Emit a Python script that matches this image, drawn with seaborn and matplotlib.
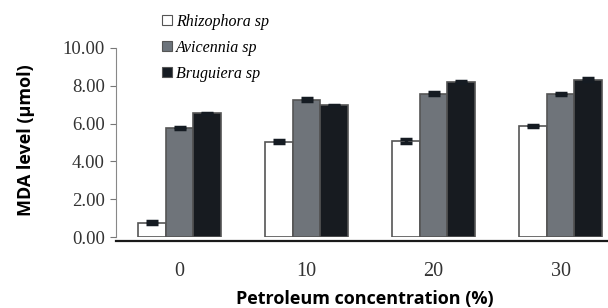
import matplotlib.pyplot as plt
import pandas as pd
import seaborn as sns
from matplotlib.patches import Patch

# data
concentration = ["0", "10", "20", "30"]
species = ["Rhizophora sp", "Avicennia sp", "Bruguiera sp"]
rhizophora = [0.75, 5.03, 5.08, 5.88]
avicennia = [5.77, 7.27, 7.58, 7.58]
bruguiera = [6.55, 6.98, 8.22, 8.33]
err_rhizophora = [0.08, 0.08, 0.08, 0.07]
err_avicennia = [0.06, 0.08, 0.08, 0.06]
err_bruguiera = [0.03, 0.03, 0.06, 0.08]

colors = ["#ffffff", "#6d747c", "#151b22"]

df = pd.DataFrame({
    "conc": concentration * 3,
    "species": [s for s in species for _ in concentration],
    "mda": rhizophora + avicennia + bruguiera,
    "err": err_rhizophora + err_avicennia + err_bruguiera,
})

fig = plt.figure(figsize=(6.08, 3.08), dpi=100)
ax = fig.add_axes([116 / 608, 71 / 308, 508 / 608, 189 / 308])

sns.barplot(data=df, x="conc", y="mda", hue="species", order=concentration,
            hue_order=species, palette=colors, width=0.66, gap=0,
            errorbar=None, edgecolor="#555555", linewidth=1.2,
            legend=False, ax=ax)

# error bars on top of each bar (patches come out hue by hue)
for patch, (_, row) in zip(ax.patches, df.iterrows()):
    xc = patch.get_x() + patch.get_width() / 2
    ax.errorbar(xc, row["mda"], yerr=row["err"], fmt="none",
                ecolor="#151b22", elinewidth=2.5, capsize=4, capthick=2.5)

ax.set_xlim(-0.5, 3.5)
ax.set_ylim(0, 10)
ax.set_yticks([0, 2, 4, 6, 8, 10])
ax.set_yticklabels(["0.00", "2.00", "4.00", "6.00", "8.00", "10.00"])

ax.tick_params(axis="y", labelsize=13.5, length=4, color="#777777", pad=4,
               labelfontfamily="Liberation Serif", labelcolor="#333333")
ax.tick_params(axis="x", labelsize=14.5, length=0, pad=15,
               labelfontfamily="Liberation Serif", labelcolor="#333333")

ax.spines["top"].set_visible(False)
ax.spines["right"].set_visible(False)
ax.spines["left"].set_color("#888888")
ax.spines["bottom"].set_color("#1a1a1a")
ax.spines["bottom"].set_linewidth(1.6)
ax.spines["bottom"].set_position(("outward", 3))

ax.set_xlabel("Petroleum concentration (%)", fontsize=13, fontweight="bold",
              family="Open Sans")
ax.set_ylabel("MDA level (\u00b5mol)", fontsize=13, fontweight="bold",
              family="Open Sans")
ax.xaxis.set_label_coords(0.49, -0.28)
ax.yaxis.set_label_coords(-0.16, 0.51)

handles = [Patch(facecolor=c, edgecolor="#555555", linewidth=0.8) for c in colors]
ax.legend(handles, species, loc="upper left", bbox_to_anchor=(40 / 508, 1.215),
          frameon=False, handlelength=0.6, handleheight=0.6, handletextpad=0.25,
          labelspacing=0.62, borderaxespad=0,
          prop={"family": "Liberation Serif", "style": "italic", "size": 11.5})

fig.savefig("out.png", dpi=100)
